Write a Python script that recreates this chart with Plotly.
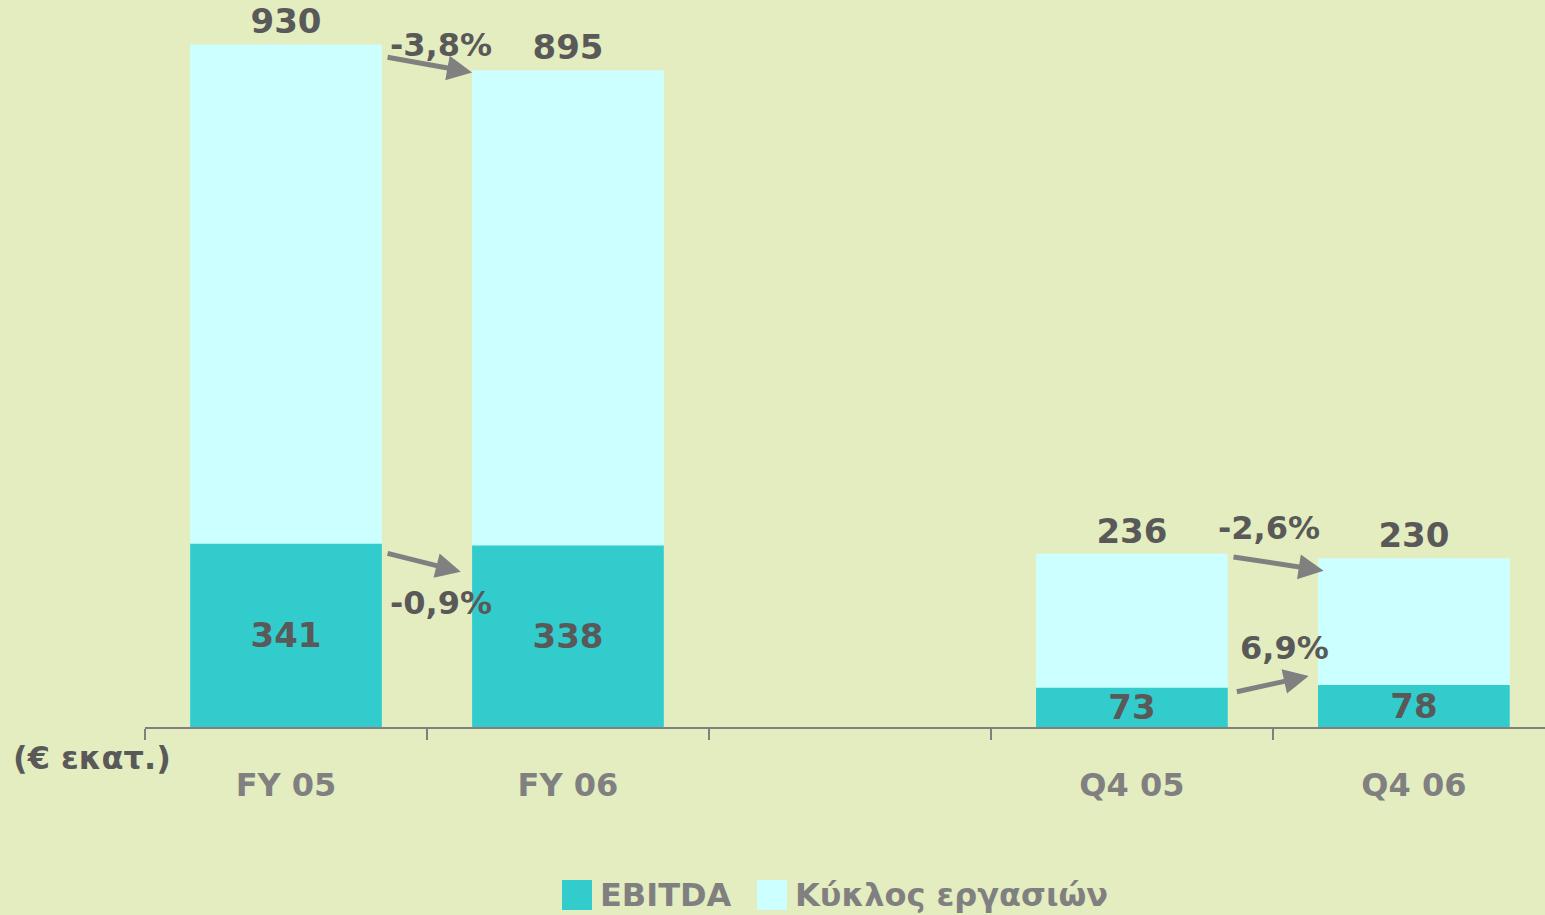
import plotly.graph_objects as go

# data
categories = ["FY 05", "FY 06", " ", "Q4 05", "Q4 06"]
turnover = [930, 895, None, 236, 230]
ebitda = [341, 338, None, 73, 78]
turnover_change = ["-3,8%", "-2,6%"]
ebitda_change = ["-0,9%", "6,9%"]
unit_label = "(€ εκατ.)"
legend_names = ["EBITDA", "Κύκλος εργασιών"]

BG = "#E4EDC0"
TEAL = "#33CCCC"
CYAN = "#CCFFFF"
DARK = "#595959"
GREY = "#808080"
FONT = "DejaVu Sans"

W, H = 1545, 915
L, R, T, B = 145, 0, 10, 188


def px(x, y):
    # pixel -> paper coords
    return (x - L) / (W - L - R), (H - B - y) / (H - T - B)


def lbl(v):
    return "" if v is None else str(v)


fig = go.Figure()

fig.add_trace(go.Bar(
    x=categories, y=turnover, yaxis="y", name=legend_names[1],
    marker=dict(color=CYAN, line=dict(width=0)), width=0.68,
    text=[lbl(v) for v in turnover], textposition="outside",
    textfont=dict(family=FONT, size=34, color=DARK, weight="bold"),
    constraintext="none", cliponaxis=False, showlegend=False, hoverinfo="skip"))

fig.add_trace(go.Bar(
    x=categories, y=ebitda, yaxis="y2", name=legend_names[0],
    marker=dict(color=TEAL, line=dict(width=0)), width=0.68,
    text=[lbl(v) for v in ebitda], textposition="inside", insidetextanchor="middle",
    textfont=dict(family=FONT, size=34, color=DARK, weight="bold"),
    constraintext="none", cliponaxis=False, showlegend=False, hoverinfo="skip"))

pct_font = dict(family=FONT, size=32, color=DARK, weight="bold")
arrow_style = dict(showarrow=True, arrowhead=2, arrowsize=1.0, arrowwidth=5,
                   arrowcolor=GREY, text="", standoff=0, startstandoff=0)
anns = []

# turnover change arrows
anns.append(dict(xref="x", yref="y", axref="x", ayref="y",
                 x=0.66, y=turnover[1] - 3, ax=0.355, ay=turnover[0] - 17, **arrow_style))
anns.append(dict(xref="x", yref="y", x=0.55, y=turnover[0] - 1, text=turnover_change[0],
                 showarrow=False, font=pct_font))
anns.append(dict(xref="x", yref="y", axref="x", ayref="y",
                 x=3.68, y=turnover[4] - 17, ax=3.355, ay=turnover[3] - 4, **arrow_style))
anns.append(dict(xref="x", yref="y", x=3.485, y=turnover[3] + 35, text=turnover_change[1],
                 showarrow=False, font=pct_font))

# ebitda change arrows
anns.append(dict(xref="x", yref="y2", axref="x", ayref="y2",
                 x=0.62, y=ebitda[1] - 49, ax=0.355, ay=ebitda[0] - 17, **arrow_style))
anns.append(dict(xref="x", yref="y2", x=0.55, y=ebitda[0] - 110, text=ebitda_change[0],
                 showarrow=False, font=pct_font))
anns.append(dict(xref="x", yref="y2", axref="x", ayref="y2",
                 x=3.627, y=ebitda[4] + 17, ax=3.367, ay=ebitda[3] - 8, **arrow_style))
anns.append(dict(xref="x", yref="y2", x=3.54, y=ebitda[3] + 74, text=ebitda_change[1],
                 showarrow=False, font=pct_font))

# unit label
ux, uy = px(92, 758)
anns.append(dict(xref="paper", yref="paper", x=ux, y=uy, xanchor="center", yanchor="middle",
                 text=unit_label, showarrow=False,
                 font=dict(family=FONT, size=32, color=DARK, weight="bold")))

# manual legend
shapes = []
for x0, color, name in [(562, TEAL, legend_names[0]), (757, CYAN, legend_names[1])]:
    a0, b0 = px(x0, 910)
    a1, b1 = px(x0 + 30, 880)
    shapes.append(dict(type="rect", xref="paper", yref="paper", x0=a0, y0=b0, x1=a1, y1=b1,
                       fillcolor=color, line=dict(width=0)))
    tx, ty = px(x0 + 36, 895)
    anns.append(dict(xref="paper", yref="paper", x=tx, y=ty, xanchor="left", yanchor="middle",
                     text=name, showarrow=False,
                     font=dict(family=FONT, size=32, color=GREY, weight="bold")))

fig.update_layout(
    width=W, height=H,
    margin=dict(l=L, r=R, t=T, b=B),
    paper_bgcolor=BG, plot_bgcolor=BG,
    barmode="overlay",
    showlegend=False,
    xaxis=dict(
        type="category", categoryorder="array", categoryarray=categories,
        range=[-0.5, 4.465], tickson="boundaries", ticks="outside", ticklen=11,
        tickwidth=2, tickcolor=GREY, showline=True, linecolor=GREY, linewidth=2,
        showgrid=False, zeroline=False, ticklabelstandoff=29,
        tickfont=dict(family=FONT, size=32, color=GREY, weight="bold"),
    ),
    yaxis=dict(range=[0, 977], visible=False),
    yaxis2=dict(range=[0, 1335], visible=False, overlaying="y"),
    annotations=anns,
    shapes=shapes,
)

fig.write_html("out.html", config={"displayModeBar": False},
               post_script="document.body.style.margin='0';document.body.style.overflow='hidden';")
